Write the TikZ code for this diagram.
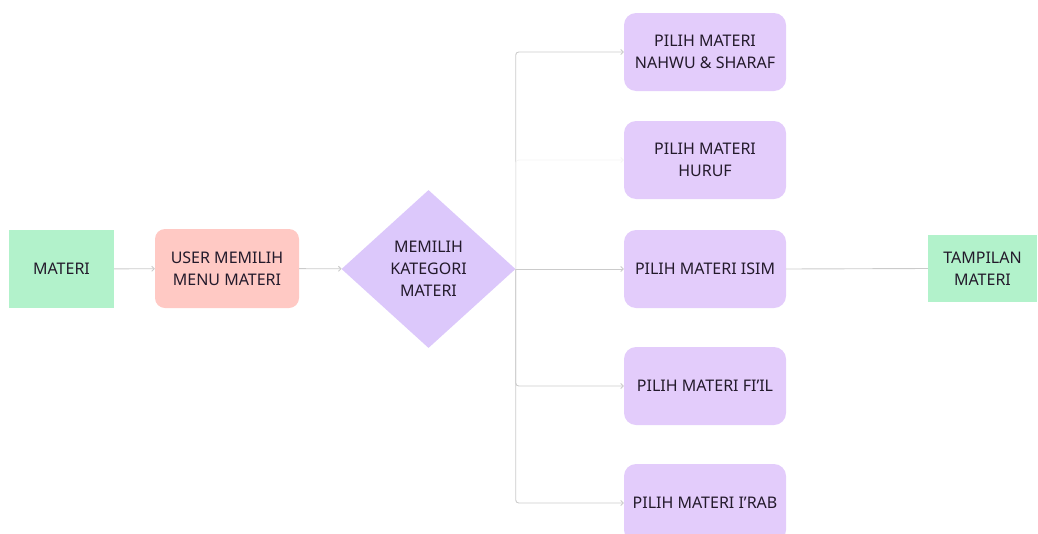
\documentclass[tikz,border=0pt]{standalone}
\usepackage{fontspec}
\setmainfont{Noto Sans}
\usetikzlibrary{shapes.geometric,arrows.meta}
\definecolor{mintfill}{HTML}{B2F2CB}
\definecolor{rosefill}{HTML}{FFC9C4}
\definecolor{lilacfill}{HTML}{E3CCFB}
\definecolor{lilacdiam}{HTML}{DCC8FB}
\definecolor{inkdark}{HTML}{231A2B}
\definecolor{wire}{HTML}{CBCBCB}
\definecolor{wirefaint}{HTML}{F5F5F5}
\begin{document}
\begin{tikzpicture}[x=1pt,y=-1pt,
  every node/.style={font=\fontsize{16}{22}\selectfont, text=inkdark, align=center, inner sep=0pt},
  endbox/.style={fill=mintfill, minimum width=105pt, minimum height=78pt},
  userbox/.style={fill=rosefill, rounded corners=10pt, minimum width=144pt, minimum height=79pt},
  choicebox/.style={fill=lilacfill, rounded corners=12pt, minimum width=162pt, minimum height=78pt},
  decide/.style={shape=diamond, fill=lilacdiam, minimum width=174pt, minimum height=158pt},
  conn/.style={draw=wire, line width=0.9pt, rounded corners=3pt},
  tipped/.style={-{Straight Barb[length=2.5pt,width=5pt]}},
]
\useasboundingbox (0,0) rectangle (1038,533);
\clip (0,0) rectangle (1038,533);

% start, action and decision
\node[endbox] (mat) at (61.5,269) {MATERI};
\node[userbox] (user) at (227,268.5) {USER MEMILIH\\MENU MATERI};
\node[decide] (cat) at (428.5,269) {MEMILIH\\KATEGORI\\MATERI};

% category choices
\node[choicebox] (nahwu) at (705,52) {PILIH MATERI\\NAHWU \& SHARAF};
\node[choicebox] (huruf) at (705,160) {PILIH MATERI\\HURUF};
\node[choicebox] (isim)  at (705,269) {PILIH MATERI ISIM};
\node[choicebox] (fiil)  at (705,386) {PILIH MATERI FI’IL};
\node[choicebox] (irab)  at (705,503) {PILIH MATERI I’RAB};

% result
\node[endbox, minimum width=109pt, minimum height=67pt] (show) at (982.5,268.5) {TAMPILAN\\MATERI};

% connectors
\draw[conn,tipped] (mat) -- (user);
\draw[conn,tipped] (user) -- (cat);
\draw[conn,tipped] (cat.east) |- (nahwu.west);
\draw[conn,tipped,draw=wirefaint] (cat.east) |- (huruf.west);
\draw[conn,tipped] (cat.east) -- (isim.west);
\draw[conn,tipped] (cat.east) |- (fiil.west);
\draw[conn,tipped] (cat.east) |- (irab.west);
\draw[conn] (isim.east) -- (show.west);
\end{tikzpicture}
\end{document}
